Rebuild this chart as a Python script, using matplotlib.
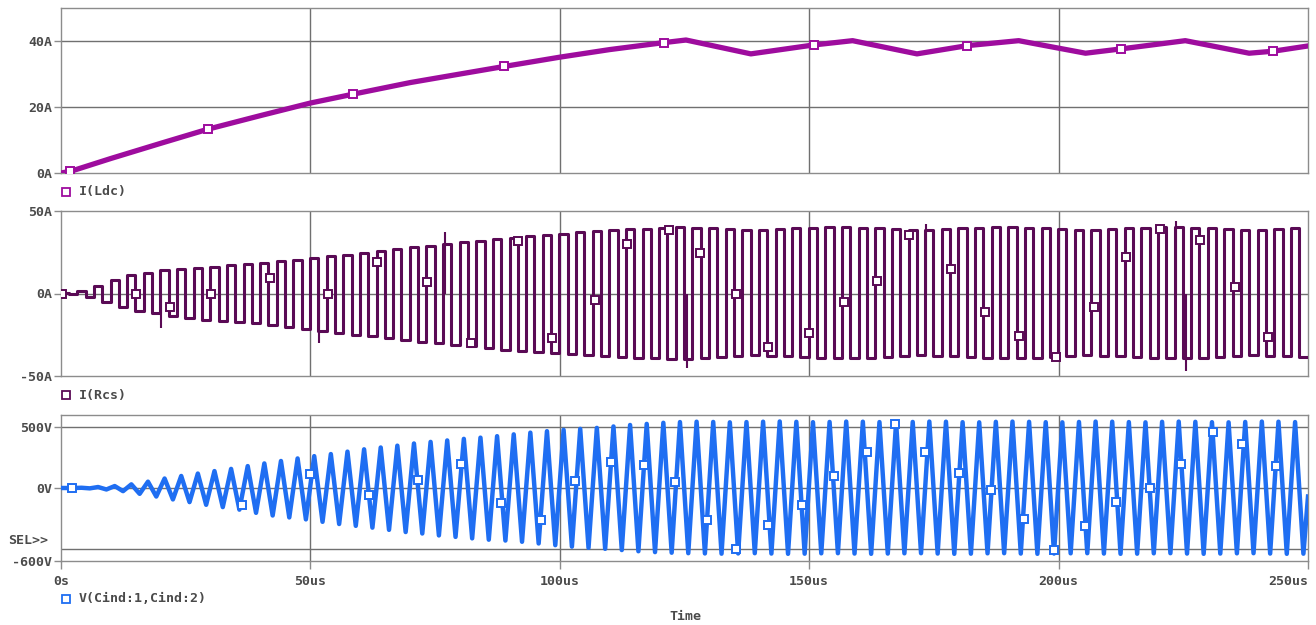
import numpy as np
import matplotlib.pyplot as plt
from matplotlib.lines import Line2D

# ---- values (time in us) ----
# I(Ldc): input choke current
ldc_t = [0, 1.9, 10, 20, 29.5, 40, 50, 58.6, 70, 80, 88.9, 100, 110, 120.8,
         125.3, 138.3, 150.9, 158.7, 171.6, 181.7, 192.0, 205.4, 212.5, 225.4,
         238.2, 243.0, 250]
ldc_i = [0, 0.5, 4.4, 9.0, 13.3, 17.4, 21.2, 23.9, 27.4, 30.0, 32.3, 35.1, 37.4, 39.5,
         40.3, 36.1, 38.8, 40.1, 36.1, 38.6, 40.1, 36.3, 37.6, 40.1,
         36.3, 36.9, 38.5]
ldc_mk_t = [1.9, 29.5, 58.6, 88.9, 120.8, 150.9, 181.7, 212.5, 243.0]
ldc_mk_i = [0.5, 13.3, 23.9, 32.3, 39.5, 38.8, 38.6, 37.6, 36.9]

# tank oscillation: one crest + one trough per cycle
PERIOD = 3.333       # us
FIRST_PEAK = 0.77    # us

# I(Rcs): square current, plateau level of each cycle
rcs_high = [0.5, 1.5, 4.5, 8, 11, 12.5, 14, 14.8, 15.6, 16.3,
            17, 17.8, 18.6, 19.5, 20.5, 21.5, 22.5, 23.5, 24.6, 25.8,
            27, 28, 29, 30, 31, 32, 33, 33.8, 34.6, 35.4,
            36.2, 37, 37.6, 38.2, 38.8, 39.3, 39.8, 40.2, 40.0, 39.5,
            38.8, 38.4, 38.6, 39.0, 39.4, 39.8, 40.1, 40.3, 40.0, 39.4,
            38.8, 38.4, 38.6, 39.0, 39.4, 39.8, 40.1, 40.3, 40.0, 39.4,
            38.8, 38.4, 38.6, 39.0, 39.4, 39.8, 40.1, 40.3, 40.0, 39.4,
            38.8, 38.4, 38.6, 39.0, 39.4]
rcs_low = [-0.5, -2, -5, -8, -10.5, -12, -13.5, -14.8, -15.8, -16.5,
           -17.2, -18, -19, -20.3, -21.5, -22.8, -24, -25, -26, -27.2,
           -28.3, -29.3, -30.2, -31, -32, -33, -34, -34.8, -35.5, -36,
           -36.5, -37, -37.6, -38.2, -38.8, -39.2, -39.5, -39.4, -39, -38.4,
           -37.8, -37.5, -37.7, -38.1, -38.5, -38.9, -39.2, -39.3, -39, -38.4,
           -37.8, -37.5, -37.7, -38.1, -38.5, -38.9, -39.2, -39.3, -39, -38.4,
           -37.8, -37.5, -37.7, -38.1, -38.5, -38.9, -39.2, -39.3, -39, -38.4,
           -37.8, -37.5, -37.7, -38.1, -38.5]
rcs_spike_t = [20.0, 51.7, 77.0, 125.6, 173.5, 223.6, 225.6]
rcs_spike_i = [-21, -30, 37, -45, 42, 44, -47]
rcs_mk_t = [0.2, 15.0, 21.9, 30.1, 41.9, 53.5, 63.4, 73.3, 82.2, 91.7, 98.4,
            107.0, 113.5, 121.8, 128.2, 135.3, 141.8, 150.0, 157.0, 163.6,
            170.1, 178.5, 185.2, 192.0, 199.5, 207.0, 213.6, 220.3, 228.4,
            235.3, 242.0]
rcs_mk_i = [0, 0, -8.2, 0, 9.4, 0, 19.3, 7.0, -29.9, 31.6, -26.9,
            -4.0, 30.2, 38.5, 24.3, -0.6, -32.6, -23.9, -5.3, 7.8,
            35.7, 15.0, -11.1, -26.0, -38.3, -8.2, 22.1, 38.9, 32.4,
            4.1, -26.6]

# V(Cind:1,Cind:2): crest and trough of each cycle
v_pos = [0, 2, 8, 16, 30, 52, 78, 99, 119, 139,
         157, 180, 202, 222, 243, 262, 279, 299, 318, 333,
         348, 366, 379, 391, 404, 414, 426, 441, 455, 467,
         478, 486, 494, 506, 518, 527, 536, 542, 545, 543,
         540, 542, 545, 547, 544, 541, 543, 546, 545, 542,
         540, 543, 546, 545, 541, 540, 544, 546, 544, 541,
         540, 543, 546, 545, 542, 540, 544, 546, 544, 541,
         540, 543, 546, 545, 542]
v_neg = [0, -3, -12, -26, -48, -70, -94, -116, -138, -157,
         -178, -204, -226, -242, -258, -278, -296, -311, -326, -344,
         -362, -374, -390, -402, -414, -425, -432, -442, -456, -470,
         -482, -492, -500, -510, -520, -527, -532, -536, -538, -540,
         -538, -536, -539, -541, -540, -537, -536, -539, -541, -539,
         -537, -536, -539, -541, -540, -537, -536, -539, -541, -539,
         -537, -536, -539, -541, -540, -537, -536, -539, -541, -539,
         -537, -536, -539, -541, -540]
V_END = -70
v_mk_t = [2.3, 36.3, 50.0, 61.7, 71.5, 80.1, 88.2, 96.2, 103.0, 110.2, 116.9,
          123.1, 129.6, 135.4, 141.8, 148.5, 155.0, 161.5, 167.3, 173.3, 180.0,
          186.5, 193.0, 199.0, 205.3, 211.6, 218.3, 224.6, 230.9, 236.8, 243.5]
v_mk_v = [0, -139, 119, -56, 64, 197, -120, -265, 55, 213, 191,
          46, -260, -500, -301, -137, 100, 295, 525, 295, 120,
          -20, -251, -511, -309, -117, 0, 199, 459, 363, 183]

x_ticks = [0, 50, 100, 150, 200, 250]
x_labels = ["0s", "50us", "100us", "150us", "200us", "250us"]

C_LDC = "#9e0c9e"
C_RCS = "#5a0a55"
C_V = "#1f6ef2"
C_TXT = "#4a4a4a"
C_GRID = "#707070"
FONT = dict(family="DejaVu Sans Mono", weight="bold", size=9.5, color=C_TXT)


def tank_wave(pos, neg):
    t, v = [0.0], [0.0]
    for k in range(len(pos)):
        c = FIRST_PEAK + PERIOD * k
        t += [c, c + PERIOD / 2]
        v += [pos[k], neg[k]]
    t.append(250.0)
    v.append(V_END)
    return t, v


def square_wave(high, low):
    t, i, prev = [0.0], [0.0], 0.0
    for k in range(len(high)):
        c = FIRST_PEAK + PERIOD * k
        r, f = max(c - PERIOD / 4, 0), c + PERIOD / 4
        t += [r, r, f, f]
        i += [prev, high[k], high[k], low[k]]
        prev = low[k]
    t.append(250.0)
    i.append(prev)
    return t, i


W, H = 1316, 625
fig = plt.figure(figsize=(W / 100, H / 100), dpi=100)


def rect(top, bottom):
    return [61 / W, 1 - bottom / H, (1308 - 61) / W, (bottom - top) / H]


ax1 = fig.add_axes(rect(8, 173))
ax2 = fig.add_axes(rect(211, 376))
ax3 = fig.add_axes(rect(415, 561))


def style(ax, ylim, yticks, ylabels, hgrid):
    ax.set_xlim(0, 250)
    ax.set_ylim(*ylim)
    for s in ax.spines.values():
        s.set_color("#8c8c8c")
        s.set_linewidth(1)
    for x in x_ticks[1:-1]:
        ax.axvline(x, color=C_GRID, lw=1, zorder=1)
    for y in hgrid:
        ax.axhline(y, color=C_GRID, lw=1, zorder=1)
    ax.set_yticks(yticks)
    ax.set_yticklabels(ylabels, fontdict=FONT)
    ax.tick_params(axis="y", length=5, width=1, color="#8c8c8c", pad=1.5)
    ax.set_xticks(x_ticks)
    ax.tick_params(axis="x", length=0, labelbottom=False)


style(ax1, (0, 50), [0, 20, 40], ["0A", "20A", "40A"], [20, 40])
style(ax2, (-50, 50), [-50, 0, 50], ["-50A", "0A", "50A"], [0])
style(ax3, (-600, 600), [-600, 0, 500], ["-600V", "0V", "500V"], [-500, 0, 500])
ax3.tick_params(axis="x", length=6, width=1, color="#8c8c8c", labelbottom=True, pad=4)
ax3.set_xticklabels(x_labels, fontdict=FONT)
ax3.get_xticklabels()[-1].set_horizontalalignment("right")

mk = dict(marker="s", ms=5.8, mfc="white", mew=1.4, ls="none", zorder=4)

# I(Ldc)
ax1.plot(ldc_t, ldc_i, color=C_LDC, lw=3.8, zorder=3)
ax1.plot(ldc_mk_t, ldc_mk_i, mec=C_LDC, **mk)

# I(Rcs)
rt, ri = square_wave(rcs_high, rcs_low)
ax2.plot(rt, ri, color=C_RCS, lw=2.2, zorder=3)
ax2.vlines(rcs_spike_t, 0, rcs_spike_i, color=C_RCS, lw=1.5, zorder=3)
ax2.plot(rcs_mk_t, rcs_mk_i, mec=C_RCS, **mk)

# V(Cind:1,Cind:2)
vt, vv = tank_wave(v_pos, v_neg)
ax3.plot(vt, vv, color=C_V, lw=3.2, zorder=3)
ax3.plot(v_mk_t, v_mk_v, mec=C_V, **mk)


def fig_xy(x, y):
    return x / W, 1 - y / H


for y, name, col in [(192, "I(Ldc)", C_LDC), (395, "I(Rcs)", C_RCS),
                     (599, "V(Cind:1,Cind:2)", C_V)]:
    fig.add_artist(Line2D([66 / W], [1 - y / H], marker="s", ms=6, mfc="white",
                          mec=col, mew=1.3, transform=fig.transFigure))
    fig.text(*fig_xy(79, y), name, va="center", ha="left", **FONT)

fig.text(*fig_xy(8, 541), "SEL>>", va="center", ha="left", **FONT)
fig.text(*fig_xy(685, 617), "Time", va="center", ha="center", **FONT)

fig.savefig("out.png", dpi=100)
